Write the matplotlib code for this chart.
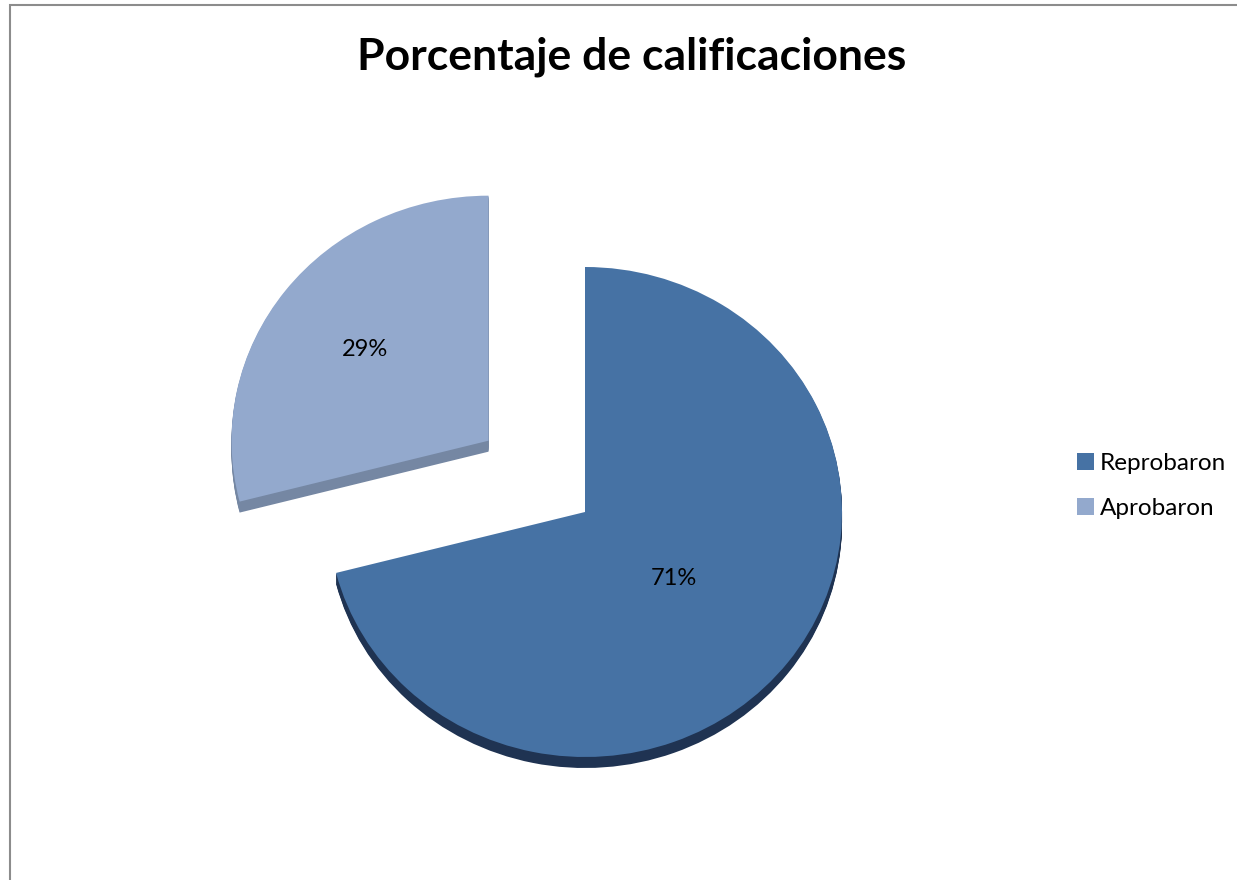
import matplotlib
matplotlib.use("Agg")
import matplotlib.pyplot as plt
from matplotlib.patches import Rectangle
import numpy as np

labels = ["Reprobaron", "Aprobaron"]
values = [71, 29]
explode = [0.0, 0.475]
top_colors = ["#4672a4", "#93a9cd"]
side_colors = ["#1f3352", "#7587a3"]

W, H = 1237, 880
fig = plt.figure(figsize=(W / 100, H / 100), dpi=100)
fig.patch.set_facecolor("white")
ax = fig.add_axes([0, 0, 1, 1])

cx, cy = 585, 512     # pixel centre of the pie
rx, ry = 257, 245     # pixel radii (tilted ellipse)
depth_px = 11
steps = 11

# side (depth) layers
for k in range(steps, 0, -1):
    off = -(depth_px * k / steps) / ry
    ax.pie(values, explode=explode, colors=side_colors, startangle=90,
           counterclock=False, radius=1.0, center=(0, off),
           wedgeprops=dict(linewidth=0), frame=True)

wedges, texts, autotexts = ax.pie(
    values, explode=explode, colors=top_colors, startangle=90,
    counterclock=False, radius=1.0, center=(0, 0), autopct="%1.0f%%",
    pctdistance=0.6, wedgeprops=dict(linewidth=0), frame=True,
    textprops=dict(fontsize=17, family="Lato", color="black"))

# label distances from each slice's own centre
label_dist = [0.44, 0.61]
for w, t, d in zip(wedges, autotexts, label_dist):
    mid = np.deg2rad((w.theta1 + w.theta2) / 2)
    ox, oy = w.center
    t.set_position((ox + d * np.cos(mid), oy + d * np.sin(mid)))

ax.set_aspect("auto")
ax.set_xlim((0 - cx) / rx, (W - cx) / rx)
ax.set_ylim((cy - H) / ry, cy / ry)
ax.axis("off")

# title
fig.text(632 / W, 1 - 57 / H, "Porcentaje de calificaciones", ha="center",
         va="center", fontsize=32, fontweight="bold", family="Lato")

# legend
leg = fig.legend(wedges, labels, loc="center left",
                 bbox_to_anchor=(1072 / W, 1 - 486 / H), frameon=False,
                 prop=dict(family="Lato", size=17.5), handlelength=0.7,
                 handleheight=0.7, handletextpad=0.25, labelspacing=1.0,
                 borderpad=0.2, borderaxespad=0.0)

# outer border
fig.patches.append(Rectangle((10 / W, -0.1), 1.2, 1 - 5 / H + 0.1,
                             transform=fig.transFigure, fill=False,
                             edgecolor="#8c8c8c", linewidth=1.5))

fig.savefig("out.png", dpi=100, facecolor="white")
